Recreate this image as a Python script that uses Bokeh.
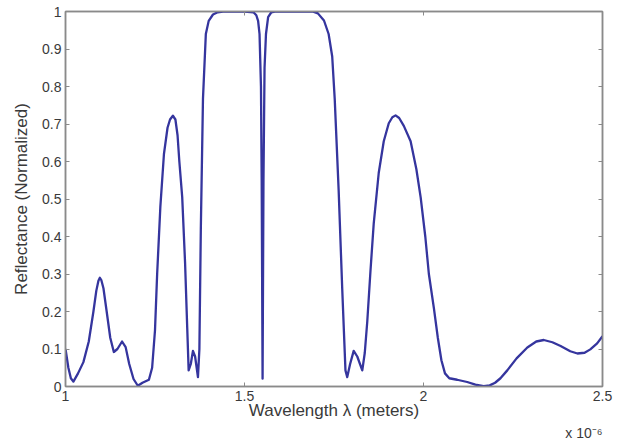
from bokeh.plotting import figure
from bokeh.models import Range1d, LinearAxis, FixedTicker, Title
from bokeh.embed import file_html
from bokeh.resources import INLINE

# Wavelength (x 1e-6 m) and normalized reflectance
wavelength = [
    1.000, 1.008, 1.015, 1.022, 1.035, 1.050, 1.065, 1.078, 1.086, 1.092,
    1.096, 1.100, 1.106, 1.115, 1.125, 1.135, 1.145, 1.158, 1.168, 1.178,
    1.190, 1.202, 1.215, 1.233, 1.242, 1.250, 1.256, 1.265, 1.275, 1.285,
    1.292, 1.300, 1.307, 1.313, 1.318, 1.326, 1.334, 1.340, 1.344, 1.350,
    1.356, 1.362, 1.370, 1.374, 1.378, 1.384, 1.392, 1.400, 1.412, 1.425,
    1.440, 1.500, 1.525, 1.533, 1.538, 1.542, 1.546, 1.548, 1.5505, 1.553,
    1.556, 1.560, 1.566, 1.575, 1.585, 1.690, 1.705, 1.722, 1.735, 1.745,
    1.752, 1.763, 1.773, 1.782, 1.787, 1.795, 1.805, 1.815, 1.829, 1.836,
    1.843, 1.852, 1.861, 1.875, 1.889, 1.903, 1.913, 1.922, 1.932, 1.945,
    1.964, 1.980, 1.992, 2.005, 2.015, 2.029, 2.040, 2.050, 2.060, 2.072,
    2.094, 2.122, 2.145, 2.168, 2.185, 2.200, 2.215, 2.234, 2.260, 2.290,
    2.315, 2.336, 2.360, 2.383, 2.410, 2.430, 2.450, 2.466, 2.485, 2.500,
]
reflectance = [
    0.100, 0.050, 0.022, 0.013, 0.035, 0.065, 0.120, 0.200, 0.255, 0.282,
    0.290, 0.284, 0.262, 0.200, 0.130, 0.092, 0.100, 0.120, 0.105, 0.060,
    0.020, 0.002, 0.010, 0.018, 0.050, 0.150, 0.300, 0.480, 0.620, 0.690,
    0.712, 0.722, 0.712, 0.670, 0.600, 0.505, 0.330, 0.157, 0.043, 0.060,
    0.095, 0.080, 0.025, 0.100, 0.420, 0.767, 0.940, 0.975, 0.992, 0.998,
    1.000, 1.000, 0.998, 0.990, 0.975, 0.940, 0.800, 0.550, 0.021, 0.550,
    0.850, 0.940, 0.985, 0.998, 1.000, 1.000, 0.995, 0.976, 0.940, 0.880,
    0.767, 0.523, 0.260, 0.043, 0.025, 0.060, 0.095, 0.080, 0.043, 0.090,
    0.174, 0.310, 0.435, 0.570, 0.654, 0.702, 0.718, 0.723, 0.716, 0.695,
    0.654, 0.580, 0.505, 0.400, 0.300, 0.209, 0.130, 0.070, 0.035, 0.022,
    0.018, 0.012, 0.005, 0.001, 0.003, 0.010, 0.022, 0.043, 0.075, 0.104,
    0.120, 0.124, 0.118, 0.108, 0.094, 0.088, 0.090, 0.099, 0.115, 0.134,
]

x_ticks = [1.0, 1.5, 2.0, 2.5]
x_tick_labels = ["1", "1.5", "2", "2.5"]
y_ticks = [0.0, 0.1, 0.2, 0.3, 0.4, 0.5, 0.6, 0.7, 0.8, 0.9, 1.0]
y_tick_labels = ["0", "0.1", "0.2", "0.3", "0.4", "0.5", "0.6", "0.7", "0.8", "0.9", "1"]
x_scale_note = "x 10\u207b\u2076"

FONT = "Liberation Sans"
TXT = "#3a3a3a"
FRAME = "#8a8a8a"

p = figure(width=624, height=440, output_backend="svg", toolbar_location=None,
           x_range=Range1d(1.0, 2.5), y_range=Range1d(0.0, 1.0),
           min_border_left=65, min_border_right=22, min_border_top=11,
           min_border_bottom=47)
p.xgrid.visible = False
p.ygrid.visible = False
p.outline_line_color = FRAME
p.outline_line_width = 1.5
p.background_fill_color = "white"
p.border_fill_color = "white"

p.line(wavelength, reflectance, line_color="#35359e", line_width=2.3,
       line_join="round")

def style_axis(ax, ticks, labels, show_labels=True):
    ax.ticker = FixedTicker(ticks=ticks)
    ax.minor_tick_line_color = None
    ax.major_tick_in = 4
    ax.major_tick_out = 0
    ax.major_tick_line_color = FRAME
    ax.axis_line_color = FRAME
    ax.axis_line_width = 1.5
    ax.major_label_text_font = FONT
    ax.major_label_text_color = TXT
    if show_labels:
        ax.major_label_overrides = {t: l for t, l in zip(ticks, labels)}
        ax.major_label_text_font_size = "14px"
    else:
        ax.major_label_overrides = {t: "" for t in ticks}
        ax.major_label_text_font_size = "1px"
        ax.major_label_standoff = 0

xa = p.xaxis[0]
style_axis(xa, x_ticks, x_tick_labels)
xa.major_label_standoff = 4
xa.axis_label = "Wavelength λ (meters)"
xa.axis_label_text_font = FONT
xa.axis_label_text_font_size = "17px"
xa.axis_label_text_font_style = "normal"
xa.axis_label_text_color = TXT
xa.axis_label_standoff = -3

ya = p.yaxis[0]
style_axis(ya, y_ticks, y_tick_labels)
ya.major_label_standoff = 4
ya.axis_label = "Reflectance (Normalized)"
ya.axis_label_text_font = FONT
ya.axis_label_text_font_size = "17px"
ya.axis_label_text_font_style = "normal"
ya.axis_label_text_color = TXT
ya.axis_label_standoff = 8

top = LinearAxis()
style_axis(top, x_ticks, x_tick_labels, show_labels=False)
p.add_layout(top, "above")
right = LinearAxis()
style_axis(right, y_ticks, y_tick_labels, show_labels=False)
p.add_layout(right, "right")

note = Title(text=x_scale_note, align="right", text_font=FONT,
             text_font_size="14px", text_font_style="normal",
             text_color=TXT, standoff=0, offset=0)
p.add_layout(note, "below")

open("out.html", "w").write(file_html(p, INLINE))
